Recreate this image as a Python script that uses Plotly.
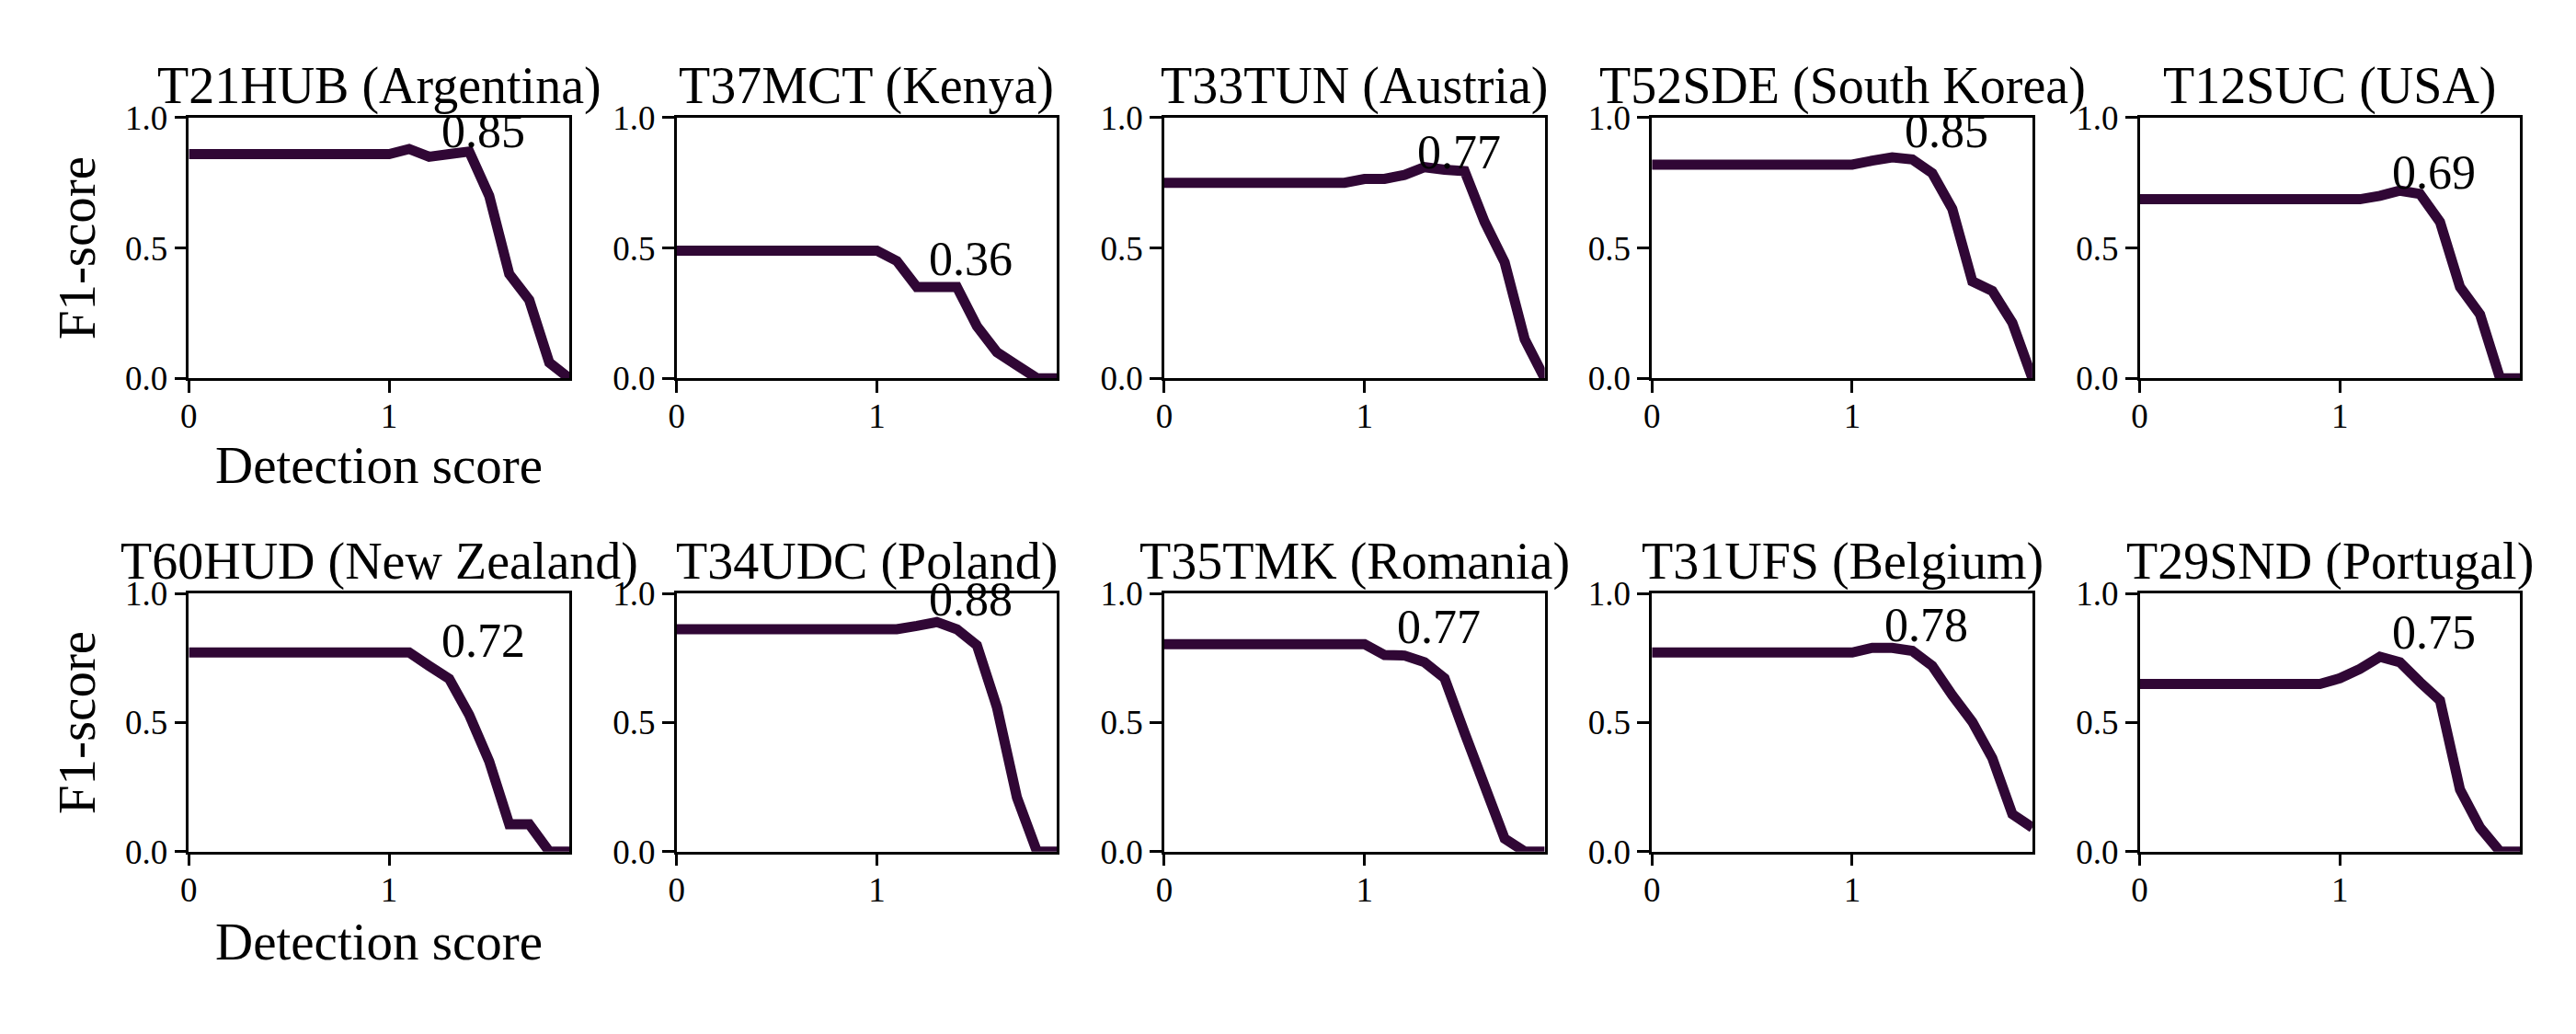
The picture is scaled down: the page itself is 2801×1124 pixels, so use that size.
import plotly.graph_objects as go

W, H = 2801, 1124

# ---------------- data ----------------
thresholds = [0.0, 0.1, 0.2, 0.3, 0.4, 0.5, 0.6, 0.7, 0.8, 0.9,
              1.0, 1.1, 1.2, 1.3, 1.4, 1.5, 1.6, 1.7, 1.8, 1.9]

titles = ["T21HUB (Argentina)", "T37MCT (Kenya)", "T33TUN (Austria)",
          "T52SDE (South Korea)", "T12SUC (USA)",
          "T60HUD (New Zealand)", "T34UDC (Poland)", "T35TMK (Romania)",
          "T31UFS (Belgium)", "T29SND (Portugal)"]

f1_argentina = [0.86, 0.86, 0.86, 0.86, 0.86, 0.86, 0.86, 0.86, 0.86, 0.86,
                0.86, 0.88, 0.85, 0.86, 0.87, 0.70, 0.40, 0.30, 0.06, 0.0]
f1_kenya = [0.49, 0.49, 0.49, 0.49, 0.49, 0.49, 0.49, 0.49, 0.49, 0.49,
            0.49, 0.45, 0.35, 0.35, 0.35, 0.20, 0.10, 0.05, 0.0, 0.0]
f1_austria = [0.75, 0.75, 0.75, 0.75, 0.75, 0.75, 0.75, 0.75, 0.75, 0.75,
              0.765, 0.765, 0.78, 0.81, 0.80, 0.795, 0.60, 0.445, 0.15, 0.0]
f1_south_korea = [0.82, 0.82, 0.82, 0.82, 0.82, 0.82, 0.82, 0.82, 0.82, 0.82,
                  0.82, 0.835, 0.848, 0.84, 0.787, 0.65, 0.372, 0.335, 0.213, 0.0]
f1_usa = [0.687, 0.687, 0.687, 0.687, 0.687, 0.687, 0.687, 0.687, 0.687, 0.687,
          0.687, 0.687, 0.70, 0.72, 0.707, 0.60, 0.35, 0.245, 0.0, 0.0]
f1_new_zealand = [0.772, 0.772, 0.772, 0.772, 0.772, 0.772, 0.772, 0.772, 0.772, 0.772,
                  0.772, 0.772, 0.72, 0.67, 0.53, 0.35, 0.106, 0.106, 0.0, 0.0]
f1_poland = [0.862, 0.862, 0.862, 0.862, 0.862, 0.862, 0.862, 0.862, 0.862, 0.862,
             0.862, 0.862, 0.875, 0.89, 0.862, 0.80, 0.56, 0.21, 0.0, 0.0]
f1_romania = [0.804, 0.804, 0.804, 0.804, 0.804, 0.804, 0.804, 0.804, 0.804, 0.804,
              0.804, 0.762, 0.76, 0.734, 0.672, 0.46, 0.25, 0.05, 0.0, 0.0]
f1_belgium = [0.772, 0.772, 0.772, 0.772, 0.772, 0.772, 0.772, 0.772, 0.772, 0.772,
              0.772, 0.79, 0.79, 0.778, 0.72, 0.606, 0.503, 0.362, 0.145, 0.093]
f1_portugal = [0.65, 0.65, 0.65, 0.65, 0.65, 0.65, 0.65, 0.65, 0.65, 0.65,
               0.672, 0.708, 0.755, 0.734, 0.657, 0.586, 0.24, 0.093, 0.0, 0.0]

series = [f1_argentina, f1_kenya, f1_austria, f1_south_korea, f1_usa,
          f1_new_zealand, f1_poland, f1_romania, f1_belgium, f1_portugal]

best_labels = ["0.85", "0.36", "0.77", "0.85", "0.69",
               "0.72", "0.88", "0.77", "0.78", "0.75"]
best_x = [1.2, 1.2, 1.2, 1.2, 1.2, 1.2, 1.2, 1.1, 1.1, 1.2]

x_ticks = [0, 1]
x_ticktext = ["0", "1"]
y_ticks = [0, 0.5, 1]
y_ticktext = ["0.0", "0.5", "1.0"]

# ---------------- layout / style ----------------
FONT = "Liberation Serif"
LINE_COLOR = "#300735"
col_left_px = [197, 729, 1261, 1793, 2325]
panel_w = 415
row_top = [112, 649]
row_bot = [406, 940]
title_y_px = [76, 613]
xlabel_y_px = [504, 1041]
ylabel_x_px = 75

fig = go.Figure()

for i in range(10):
    r, c = divmod(i, 5)
    sfx = "" if i == 0 else str(i + 1)
    x0 = col_left_px[c] / W
    x1 = (col_left_px[c] + panel_w) / W
    y0 = 1 - row_bot[r] / H
    y1 = 1 - row_top[r] / H

    fig.add_trace(go.Scatter(
        x=thresholds, y=series[i], mode="lines",
        line=dict(color=LINE_COLOR, width=11),
        xaxis="x" + sfx, yaxis="y" + sfx,
        showlegend=False, hoverinfo="skip"))

    common = dict(showline=True, mirror=True, linecolor="black", linewidth=2.5,
                  ticks="outside", ticklen=13, tickwidth=2.5, tickcolor="black",
                  showgrid=False, zeroline=False, fixedrange=True,
                  tickfont=dict(family=FONT, size=37, color="black"))
    fig.update_layout(**{
        "xaxis" + sfx: dict(domain=[x0, x1], range=[0, 1.9], tickmode="array",
                            tickvals=x_ticks, ticktext=x_ticktext,
                            ticklabelstandoff=-6,
                            anchor="y" + sfx, **common),
        "yaxis" + sfx: dict(domain=[y0, y1], range=[0, 1], tickmode="array",
                            tickvals=y_ticks, ticktext=y_ticktext,
                            anchor="x" + sfx, **common),
    })

    # panel title
    fig.add_annotation(text=titles[i], x=(x0 + x1) / 2, y=1 - title_y_px[r] / H,
                       xref="paper", yref="paper", showarrow=False,
                       xanchor="center", yanchor="middle", borderpad=0,
                       font=dict(family=FONT, size=56, color="black"))
    # best-score label
    fig.add_annotation(text=best_labels[i], x=best_x[i] + 0.057,
                       y=float(best_labels[i]) - 0.006,
                       xref="x" + sfx, yref="y" + sfx, showarrow=False,
                       xanchor="left", yanchor="bottom", borderpad=0,
                       font=dict(family=FONT, size=52, color="black"))

for r in range(2):
    x0 = col_left_px[0] / W
    x1 = (col_left_px[0] + panel_w) / W
    fig.add_annotation(text="Detection score", x=(x0 + x1) / 2, y=1 - xlabel_y_px[r] / H,
                       xref="paper", yref="paper", showarrow=False,
                       xanchor="center", yanchor="middle", borderpad=0,
                       font=dict(family=FONT, size=57, color="black"))
    fig.add_annotation(text="F1-score", x=ylabel_x_px / W,
                       y=1 - (row_top[r] + row_bot[r]) / 2 / H,
                       xref="paper", yref="paper", showarrow=False, textangle=-90,
                       xanchor="center", yanchor="middle", borderpad=0,
                       font=dict(family=FONT, size=57, color="black"))

fig.update_layout(width=W, height=H, autosize=False,
                  margin=dict(l=0, r=0, t=0, b=0),
                  paper_bgcolor="white", plot_bgcolor="white",
                  font=dict(family=FONT, color="black"))

fig.write_html("out.html", config={"displayModeBar": False},
               post_script="document.body.style.margin='0';"
                           "document.body.style.overflow='hidden';")
